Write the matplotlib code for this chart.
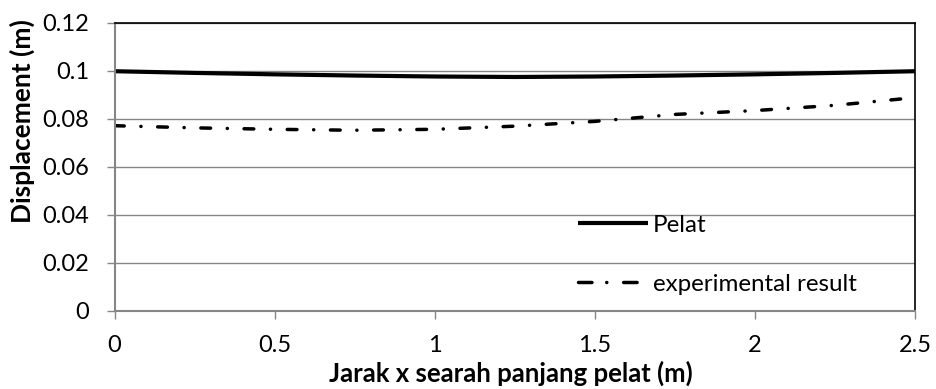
import matplotlib
matplotlib.use("Agg")
import matplotlib.pyplot as plt
from matplotlib.lines import Line2D

plt.rcParams['font.family'] = ['Lato', 'DejaVu Sans']
plt.rcParams['lines.scale_dashes'] = False

# Position along the plate (m)
x_pos = [0.0, 0.25, 0.5, 0.75, 1.0, 1.25, 1.5, 1.75, 2.0, 2.25, 2.5]
# Displacement of the plate model (m)
pelat = [0.0997, 0.0990, 0.0984, 0.0979, 0.0975, 0.0973, 0.0975, 0.0979, 0.0984, 0.0990, 0.0997]
# Displacement measured in the experiment (m)
experimental = [0.0770, 0.0761, 0.0755, 0.0751, 0.0755, 0.0768, 0.0788, 0.0817, 0.0833, 0.0855, 0.0887]

series_labels = ["Pelat", "experimental result"]
x_ticks = [0, 0.5, 1, 1.5, 2, 2.5]
x_tick_labels = ["0", "0.5", "1", "1.5", "2", "2.5"]
y_ticks = [0, 0.02, 0.04, 0.06, 0.08, 0.1, 0.12]
y_tick_labels = ["0", "0.02", "0.04", "0.06", "0.08", "0.1", "0.12"]

W, H = 936, 389
fig = plt.figure(figsize=(W / 100, H / 100), dpi=100)
left, right, top, bottom = 114.5, 915, 22.5, 310.5
ax = fig.add_axes([left / W, 1 - bottom / H, (right - left) / W, (bottom - top) / H])

grey = '#868686'
dash_dot = (0, (7.0, 12.0, 0.1, 12.0))
# shorter pattern for the legend key: dash, dot, dash
dash_dot_key = (0, (9.7, 10.6, 0.1, 12.1, 9.7, 60.0))

ax.plot(x_pos, pelat, color='black', lw=3.0, solid_capstyle='butt', label=series_labels[0])
ax.plot(x_pos, experimental, color='black', lw=2.5, linestyle=dash_dot,
        dash_capstyle='round', label=series_labels[1])

ax.set_xlim(0, 2.5)
ax.set_ylim(0, 0.12)
ax.set_xticks(x_ticks)
ax.set_xticklabels(x_tick_labels)
ax.set_yticks(y_ticks)
ax.set_yticklabels(y_tick_labels)

ax.yaxis.grid(True, color=grey, lw=1.0)
ax.set_axisbelow(True)

for s in ['top', 'right']:
    ax.spines[s].set_color('black')
    ax.spines[s].set_linewidth(1.2)
for s in ['left', 'bottom']:
    ax.spines[s].set_color(grey)
    ax.spines[s].set_linewidth(1.5)

ax.tick_params(axis='both', direction='out', length=5.8, width=1.0, color=grey,
               labelsize=17, labelcolor='black')
ax.tick_params(axis='x', pad=11.5)
ax.tick_params(axis='y', pad=12.5)

fig.text(511 / W, 1 - 373 / H, "Jarak x searah panjang pelat (m)", fontsize=18.5,
         fontweight='bold', ha='center', va='center')
fig.text(22 / W, 1 - 121 / H, "Displacement (m)", fontsize=19, fontweight='bold',
         ha='center', va='center', rotation=90)

key_handles = [
    Line2D([], [], color='black', lw=3.0, solid_capstyle='butt'),
    Line2D([], [], color='black', lw=2.5, linestyle=dash_dot_key, dash_capstyle='round'),
]
ax.legend(key_handles, series_labels, loc='lower left', bbox_to_anchor=(0.579, 0.055),
          frameon=False, fontsize=17.4, handlelength=2.9, handletextpad=0.2,
          labelspacing=1.57, borderaxespad=0, borderpad=0)

fig.savefig("out.png", dpi=100, facecolor='white')
